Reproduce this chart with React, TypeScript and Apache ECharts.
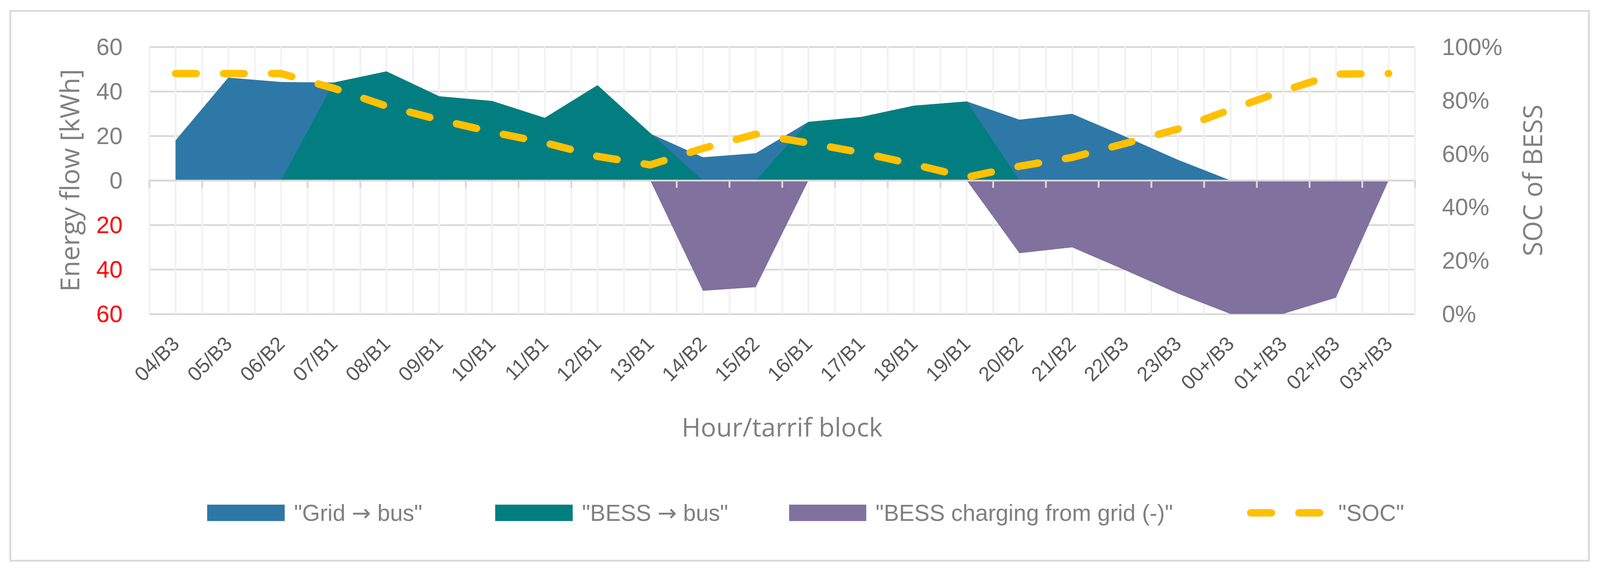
import React, { useEffect, useRef, useState } from "react";
import * as echarts from "echarts";

const categories = [
  "04/B3", "05/B3", "06/B2", "07/B1", "08/B1", "09/B1", "10/B1", "11/B1", "12/B1", "13/B1",
  "14/B2", "15/B2", "16/B1", "17/B1", "18/B1", "19/B1", "20/B2", "21/B2", "22/B3", "23/B3",
  "00+/B3", "01+/B3", "02+/B3", "03+/B3",
];
const gridToBus = [18.0, 46.2, 44.2, 44.0, 0, 0, 0, 0, 0, 21.0, 10.4, 12.2, 26.3, 0, 0, 35.5, 27.3, 29.9, 19.8, 9.3, 0, 0, 0, 0];
const bessToBus = [0, 0, 0, 44.0, 49.0, 37.8, 35.7, 28.1, 42.8, 21.3, 0, 0, 26.3, 28.5, 33.6, 35.5, 0, 0, 0, 0, 0, 0, 0, 0];
const bessCharging = [0, 0, 0, 0, 0, 0, 0, 0, 0, 0, -49.6, -48.0, 0, 0, 0, 0, -32.7, -30.1, -40.3, -50.8, -60, -60, -52.7, 0];
const socPercent = [90, 90, 90, 84.5, 77.8, 72.7, 68.1, 64.1, 59.0, 55.8, 62.0, 67.3, 64.0, 60.4, 56.0, 51.2, 55.3, 58.6, 63.8, 69.2, 76.5, 83.5, 89.8, 90];
const seriesNames = ['"Grid \u2192 bus"', '"BESS \u2192 bus"', '"BESS charging from grid (-)"', '"SOC"'];
const leftAxisTicks = { min: -60, max: 60, step: 20 };
const rightAxisTicks = { min: 0, max: 100, step: 20 };
const axisTitles = { left: "Energy flow [kWh]", right: "SOC of BESS", bottom: "Hour/tarrif block" };

// design space (reference pixels)
const W = 4333;
const H = 1465;
const BLUE = "#2E78A7";
const TEAL = "#037E80";
const PURPLE = "#80719E";
const GOLD = "#FFC000";
const GRID_DARK = "#D9D9D9";
const GRID_LIGHT = "#F2F2F2";
const TEXT_GRAY = "#808080";
const LABEL_GRAY = "#595959";
const TICK_FONT = "'Liberation Sans', Arial, sans-serif";
const TITLE_FONT = "'Open Sans', 'Noto Sans', sans-serif";
const ARROW_FONT = "'DejaVu Sans', sans-serif";

const PLOT_L = 404;
const PLOT_R = 3832;
const PLOT_T = 120;
const PLOT_B = 804;

function buildOption(sx: number, sy: number) {
  const s = Math.min(sx, sy);
  const X = (v: number) => v * sx;
  const Y = (v: number) => v * sy;
  const S = (v: number) => v * s;

  const legendFont = S(62);
  const legendText = (pad: number) => ({
    fontFamily: TICK_FONT,
    fontSize: legendFont,
    color: TEXT_GRAY,
    padding: [0, 0, 0, X(pad)],
    rich: {
      arr: { fontFamily: ARROW_FONT, fontSize: legendFont, color: TEXT_GRAY },
    },
  });
  const legendBase = {
    top: Y(1284),
    itemHeight: Y(42),
    padding: 0,
    itemGap: 0,
    selectedMode: false,
    formatter: (name: string) => name.replace("\u2192", "{arr|\u2192}"),
  };
  const socIcon =
    "path://M10,0 H66 A10,10 0 0 1 66,20 H10 A10,10 0 0 1 10,0 Z M140,0 H196 A10,10 0 0 1 196,20 H140 A10,10 0 0 1 140,0 Z";

  const areaSeries = (name: string, data: number[], color: string) => ({
    name,
    type: "line",
    xAxisIndex: 0,
    yAxisIndex: 0,
    data,
    color,
    symbol: "none",
    lineStyle: { width: 0, opacity: 0 },
    areaStyle: { color, opacity: 1 },
    z: 2,
  });

  const titleStyle = (text: string) => ({
    text,
    fontFamily: TITLE_FONT,
    fontSize: S(72),
    fill: TEXT_GRAY,
    align: "center",
    verticalAlign: "middle",
  });

  return {
    animation: false,
    backgroundColor: "#ffffff",
    grid: { left: X(PLOT_L), right: X(W - PLOT_R), top: Y(PLOT_T), bottom: Y(H - PLOT_B), containLabel: false },
    xAxis: [
      {
        type: "category",
        data: categories,
        position: "bottom",
        boundaryGap: true,
        axisLine: { show: false, onZero: false },
        axisTick: { show: false },
        splitLine: { show: false },
        axisLabel: {
          interval: 0,
          rotate: 45,
          margin: Y(67),
          fontFamily: TICK_FONT,
          fontSize: S(55),
          color: LABEL_GRAY,
        },
      },
      {
        type: "category",
        data: categories,
        position: "bottom",
        boundaryGap: true,
        z: 5,
        axisLine: { show: true, onZero: true, onZeroAxisIndex: 0, lineStyle: { color: GRID_DARK, width: S(5) } },
        axisTick: { show: true, interval: 0, alignWithLabel: false, length: Y(19), lineStyle: { color: GRID_DARK, width: S(5) } },
        axisLabel: { show: false, interval: 0 },
        splitLine: { show: false },
      },
      {
        type: "value",
        min: 0,
        max: categories.length,
        interval: 0.5,
        position: "bottom",
        axisLine: { show: false },
        axisTick: { show: false },
        axisLabel: { show: false },
        splitLine: { show: true, lineStyle: { color: GRID_LIGHT, width: S(5) } },
      },
    ],
    yAxis: [
      {
        type: "value",
        position: "left",
        min: leftAxisTicks.min,
        max: leftAxisTicks.max,
        interval: leftAxisTicks.step,
        axisLine: { show: false },
        axisTick: { show: false },
        splitLine: { show: true, lineStyle: { color: GRID_DARK, width: S(5) } },
        axisLabel: {
          margin: X(72),
          formatter: (v: number) => (v < 0 ? `{neg|${-v}}` : `{pos|${v}}`),
          rich: {
            pos: { fontFamily: TICK_FONT, fontSize: S(64), color: TEXT_GRAY },
            neg: { fontFamily: TICK_FONT, fontSize: S(64), color: "#FF0000" },
          },
        },
      },
      {
        type: "value",
        position: "right",
        min: rightAxisTicks.min,
        max: rightAxisTicks.max,
        interval: rightAxisTicks.step,
        axisLine: { show: false },
        axisTick: { show: false },
        splitLine: { show: false },
        axisLabel: {
          margin: X(73),
          formatter: "{value}%",
          fontFamily: TICK_FONT,
          fontSize: S(64),
          color: TEXT_GRAY,
        },
      },
    ],
    legend: [
      {
        ...legendBase,
        left: X(561),
        itemWidth: X(210),
        data: [{ name: seriesNames[0], icon: "rect" }],
        itemStyle: { color: BLUE, borderWidth: 0 },
        textStyle: legendText(20),
      },
      {
        ...legendBase,
        left: X(1341),
        itemWidth: X(210),
        data: [{ name: seriesNames[1], icon: "rect" }],
        itemStyle: { color: TEAL, borderWidth: 0 },
        textStyle: legendText(20),
      },
      {
        ...legendBase,
        left: X(2137),
        itemWidth: X(209),
        data: [{ name: seriesNames[2], icon: "rect" }],
        itemStyle: { color: PURPLE, borderWidth: 0 },
        textStyle: legendText(20),
      },
      {
        ...legendBase,
        left: X(3377),
        itemWidth: X(207),
        symbolKeepAspect: true,
        data: [{ name: seriesNames[3], icon: socIcon }],
        itemStyle: { color: GOLD, borderWidth: 0 },
        lineStyle: { width: 0 },
        textStyle: legendText(35),
      },
    ],
    series: [
      areaSeries(seriesNames[0], gridToBus, BLUE),
      areaSeries(seriesNames[1], bessToBus, TEAL),
      areaSeries(seriesNames[2], bessCharging, PURPLE),
      {
        name: seriesNames[3],
        type: "line",
        xAxisIndex: 0,
        yAxisIndex: 1,
        data: socPercent,
        color: GOLD,
        symbol: "none",
        lineStyle: { color: GOLD, width: S(20), type: [S(56), S(74)], cap: "round", join: "round" },
        z: 6,
      },
    ],
    graphic: [
      {
        type: "rect",
        silent: true,
        z: -10,
        shape: { x: X(28), y: Y(28), width: X(4275), height: Y(1408) },
        style: { fill: "none", stroke: GRID_DARK, lineWidth: S(5) },
      },
      {
        type: "text",
        x: X(187),
        y: Y((PLOT_T + PLOT_B) / 2),
        rotation: Math.PI / 2,
        style: titleStyle(axisTitles.left),
      },
      {
        type: "text",
        x: X(4148),
        y: Y((PLOT_T + PLOT_B) / 2),
        rotation: Math.PI / 2,
        style: titleStyle(axisTitles.right),
      },
      {
        type: "text",
        x: X((PLOT_L + PLOT_R) / 2),
        y: Y(1092),
        style: { ...titleStyle(axisTitles.bottom), fontSize: S(70) },
      },
    ],
  };
}

export default function App() {
  const ref = useRef<HTMLDivElement>(null);
  const [size] = useState(() => ({
    w: window.innerWidth || document.documentElement.clientWidth || W,
    h: window.innerHeight || document.documentElement.clientHeight || H,
  }));

  useEffect(() => {
    document.body.style.margin = "0";
    document.body.style.overflow = "hidden";
    const chart = echarts.init(ref.current!, null, { renderer: "svg", width: size.w, height: size.h });
    chart.setOption(buildOption(size.w / W, size.h / H) as any);
    return () => chart.dispose();
  }, [size]);

  return (
    <div
      ref={ref}
      style={{ position: "fixed", left: 0, top: 0, width: size.w, height: size.h, background: "#ffffff" }}
    />
  );
}
